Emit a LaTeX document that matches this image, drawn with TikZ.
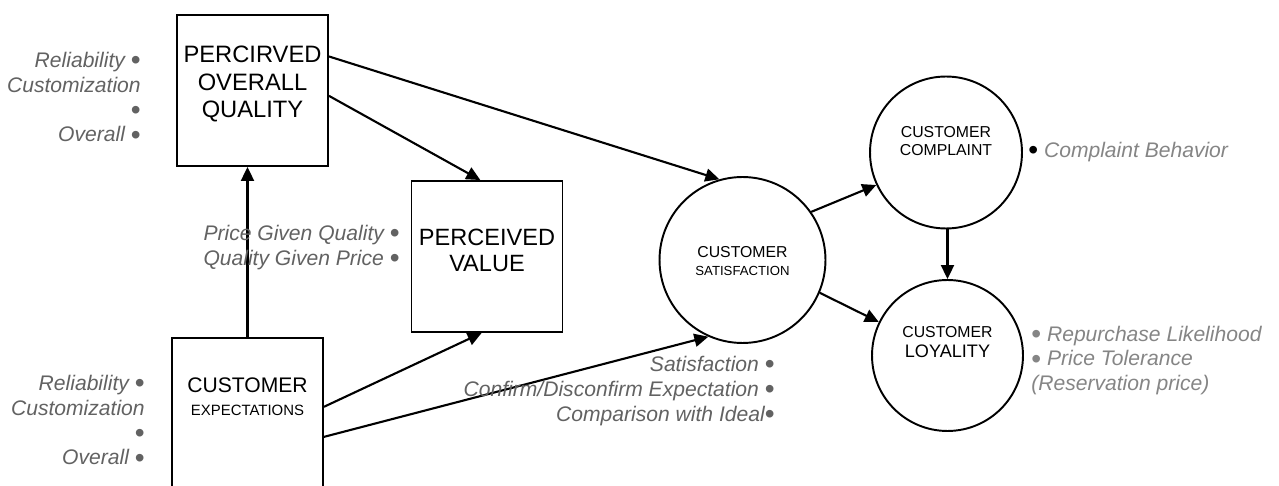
\documentclass[tikz,border=0pt]{standalone}
\usepackage{fontspec}
\setmainfont{Liberation Sans}
\usetikzlibrary{arrows.meta}
\definecolor{TagGray}{HTML}{626262}
\definecolor{NoteGray}{HTML}{858585}
\newcommand\dotmark{\smash{\raisebox{-1.4pt}{\fontsize{16}{16}\selectfont\upshape •}}}

\begin{document}
\begin{tikzpicture}[x=0.02cm, y=-0.02cm,
  box/.style={draw, line width=1.1pt, minimum width=3.02cm, minimum height=3.02cm, inner sep=0pt},
  ring/.style={draw, circle, line width=1.1pt, minimum size=3.04cm, inner sep=0pt},
  inside/.style={align=center, inner sep=0pt},
  link/.style={-{Triangle[length=0.28cm, width=0.26cm]}, line width=1.2pt},
  tag/.style={font=\itshape\fontsize{12}{14.2}\selectfont, text=TagGray, inner sep=0pt},
  note/.style={tag, text=NoteGray, align=left, anchor=west}
]
\useasboundingbox (0,0) rectangle (1279,486);

% constructs of the model
\node[box, label={[inside, yshift=0.13cm, font=\fontsize{13.5}{15.9}\selectfont]center:{PERCIRVED\\OVERALL\\QUALITY}}] (quality) at (252.5,90.5) {};
\node[box, label={[inside, yshift=0.13cm, font=\fontsize{13.4}{14.8}\selectfont]center:{PERCEIVED\\VALUE}}] (value) at (487,256.5) {};
\node[box, label={[inside, yshift=0.33cm, font=\fontsize{12}{13}\selectfont]center:{CUSTOMER\\{\fontsize{8.5}{10}\selectfont EXPECTATIONS}}}] (expect) at (247.5,413.5) {};
\node[ring, minimum size=3.32cm, label={[inside, yshift=-0.03cm, font=\fontsize{9}{10.2}\selectfont]center:{CUSTOMER\\{\fontsize{7.5}{9}\selectfont SATISFACTION}}}] (satisfaction) at (742.5,260) {};
\node[ring, label={[inside, yshift=0.23cm, font=\fontsize{9}{10.2}\selectfont]center:{CUSTOMER\\COMPLAINT}}] (complaint) at (946,152.5) {};
\node[ring, minimum size=3.02cm, label={[inside, yshift=0.27cm, font=\fontsize{9}{11.8}\selectfont]center:{CUSTOMER\\{\fontsize{10.3}{12}\selectfont LOYALITY}}}] (loyalty) at (947.5,355.5) {};

% causal paths
\draw[link] (quality.24) -- (satisfaction.106);
\draw[link] (quality.-4) -- (value.95);
\draw[link] (expect.north) -- (expect.north |- quality.south);
\draw[link] (expect.5) -- (value.266);
\draw[link] (expect.-17) -- (satisfaction.246);
\draw[link] (satisfaction.35) -- (complaint.205);
\draw[link] (satisfaction.-23) -- (loyalty.154);
\draw[link] (loyalty.north |- complaint.south) -- (loyalty.north);

% measured indicators
\node[tag, align=right, anchor=east] (qualitytags) at (141,97) {Reliability \dotmark\\Customization\\\dotmark\\Overall \dotmark};
\node[tag, align=right, anchor=east] (expecttags) at (145,420) {Reliability \dotmark\\Customization\\\dotmark\\Overall \dotmark};
\node[tag, align=right, anchor=east] (valuetags) at (400,247.5) {Price Given Quality \dotmark\\Quality Given Price \dotmark};
\node[tag, align=right, anchor=east] (sattags) at (775,391) {Satisfaction \dotmark\\Confirm/Disconfirm Expectation \dotmark\\Comparison with Ideal\dotmark};
\node[note] (complainttags) at (1028,152) {{\color{black}\dotmark} Complaint Behavior};
\node[note] (loyaltytags) at (1031,360.5) {\dotmark{} Repurchase Likelihood\\\dotmark{} Price Tolerance\\(Reservation price)};
\end{tikzpicture}
\end{document}
